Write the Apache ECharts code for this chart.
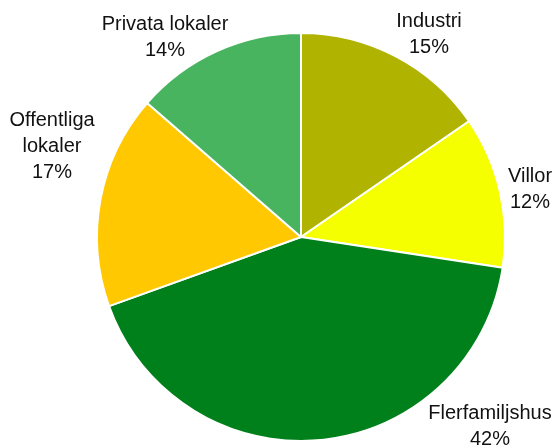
<!DOCTYPE html>
<html>
<head>
<meta charset="utf-8">
<script src="https://cdn.jsdelivr.net/npm/echarts@6/dist/echarts.min.js"></script>
<style>html,body{margin:0;padding:0;background:#fff;}#c{width:554px;height:447px;}</style>
</head>
<body>
<div id="c"></div>
<script>
var categories = ['Industri', 'Villor', 'Flerfamiljshus', 'Offentliga\nlokaler', 'Privata lokaler'];
var values = [15.4, 12.0, 42.1, 16.9, 13.6];
var colors = ['#b0b400', '#f5ff00', '#00801a', '#ffc800', '#48b460'];
var labelPos = [[429, 34], [530, 189], [490, 426], [52, 146], [165, 37]];

var chart = echarts.init(document.getElementById('c'), null, {renderer: 'canvas'});
chart.setOption({
  animation: false,
  backgroundColor: '#fff',
  series: [{
    type: 'pie',
    center: [301, 237],
    radius: [0, 204],
    startAngle: 90,
    clockwise: true,
    percentPrecision: 0,
    avoidLabelOverlap: false,
    data: categories.map(function (c, i) {
      return {name: c, value: values[i], itemStyle: {color: colors[i]}};
    }),
    itemStyle: {borderColor: '#fff', borderWidth: 2},
    label: {
      show: true,
      position: 'outside',
      alignTo: 'none',
      overflow: 'none',
      formatter: '{b}\n{d}%',
      fontFamily: 'Liberation Sans',
      fontSize: 20,
      lineHeight: 26,
      color: '#111',
      align: 'center'
    },
    labelLine: {show: false},
    labelLayout: function (p) {
      var pos = labelPos[p.dataIndex];
      return {x: pos[0], y: pos[1], align: 'center', verticalAlign: 'middle', hideOverlap: false};
    },
    emphasis: {disabled: true}
  }]
});
</script>
</body>
</html>
